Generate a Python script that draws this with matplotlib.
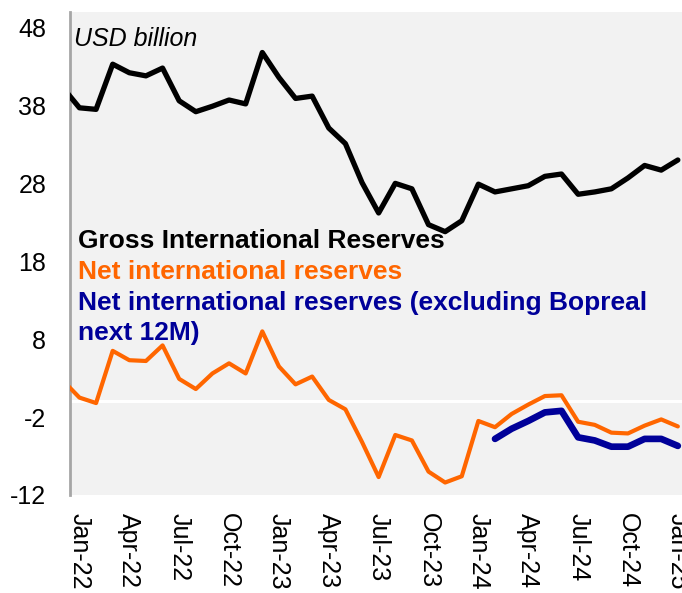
import matplotlib
matplotlib.use("Agg")
import matplotlib.pyplot as plt
import pandas as pd

plt.rcParams['font.family'] = ['Liberation Sans', 'DejaVu Sans']

# Monthly observations, Dec-2021 through Jan-2025
months = pd.date_range('2021-12-01', '2025-01-01', freq='MS')

gross_reserves = [40.3, 37.7, 37.5, 43.3, 42.2, 41.8, 42.8, 38.6, 37.2, 37.9, 38.7, 38.2,
                  44.8, 41.6, 38.9, 39.2, 35.1, 33.1, 28.1, 24.2, 28.0, 27.3, 22.7, 21.8,
                  23.2, 27.9, 26.9, 27.3, 27.7, 28.9, 29.2, 26.6, 26.9, 27.3, 28.7, 30.3,
                  29.7, 31.0]

net_reserves = [2.7, 0.5, -0.2, 6.5, 5.3, 5.2, 7.2, 2.9, 1.6, 3.6, 4.9, 3.6,
                9.0, 4.5, 2.2, 3.2, 0.2, -1.0, -5.2, -9.7, -4.3, -5.0, -9.0, -10.4,
                -9.6, -2.5, -3.3, -1.6, -0.4, 0.7, 0.8, -2.6, -3.0, -4.0, -4.1, -3.1,
                -2.3, -3.2]

# Net reserves excluding Bopreal maturities over the next 12 months (from Feb-2024)
net_ex_bopreal_start = '2024-02-01'
net_ex_bopreal = [-4.8, -3.5, -2.5, -1.4, -1.2, -4.6, -5.0, -5.8, -5.8, -4.8, -4.8, -5.7]

tick_labels = ['Jan-22', 'Apr-22', 'Jul-22', 'Oct-22', 'Jan-23', 'Apr-23', 'Jul-23',
               'Oct-23', 'Jan-24', 'Apr-24', 'Jul-24', 'Oct-24', 'Jan-25']
y_ticks = [-12, -2, 8, 18, 28, 38, 48]

BLACK = '#000000'
ORANGE = '#FF6600'
NAVY = '#000099'

# x position: months since Jan-2022
def month_index(ts):
    return (ts.year - 2022) * 12 + (ts.month - 1)

x_all = [month_index(m) for m in months]
start = month_index(pd.Timestamp(net_ex_bopreal_start))
x_ex = list(range(start, start + len(net_ex_bopreal)))

fig = plt.figure(figsize=(6.82, 5.93), dpi=100)
ax = fig.add_axes([0.1026, 0.1653, 0.8974, 0.8145])
ax.set_facecolor('#F2F2F2')

ax.axhline(0, color='white', lw=2.2, zorder=1)

ax.plot(x_all, gross_reserves, color=BLACK, lw=3.8, solid_joinstyle='round',
        solid_capstyle='round', zorder=3)
ax.plot(x_all, net_reserves, color=ORANGE, lw=3.0, solid_joinstyle='round',
        solid_capstyle='round', zorder=3)
ax.plot(x_ex, net_ex_bopreal, color=NAVY, lw=4.8, solid_joinstyle='round',
        solid_capstyle='round', zorder=4)

ax.set_xlim(-0.57, 36.25)
ax.set_ylim(-12, 50)

ax.set_yticks(y_ticks)
ax.set_yticklabels([str(t) for t in y_ticks])
ax.set_xticks(range(0, 37, 3))
ax.set_xticklabels(tick_labels, rotation=270, va='top', ha='center')

ax.tick_params(axis='y', length=0, pad=17, labelsize=18)
ax.tick_params(axis='x', length=0, pad=13, labelsize=18)

for side in ['top', 'right', 'bottom']:
    ax.spines[side].set_visible(False)
ax.spines['left'].set_color('#A6A6A6')
ax.spines['left'].set_linewidth(2)

ax.text(0.0065, 0.9296, 'USD billion', transform=ax.transAxes, fontsize=18,
        style='italic', va='baseline', ha='left')

legend_items = [
    ('Gross International Reserves', BLACK, 0.511),
    ('Net international reserves', ORANGE, 0.447),
    ('Net international reserves (excluding Bopreal', NAVY, 0.383),
    ('next 12M)', NAVY, 0.321),
]
for label, color, ypos in legend_items:
    ax.text(0.013, ypos, label, transform=ax.transAxes, fontsize=19,
            fontweight='bold', color=color, va='baseline', ha='left', zorder=5)

fig.savefig('out.png', dpi=100)
